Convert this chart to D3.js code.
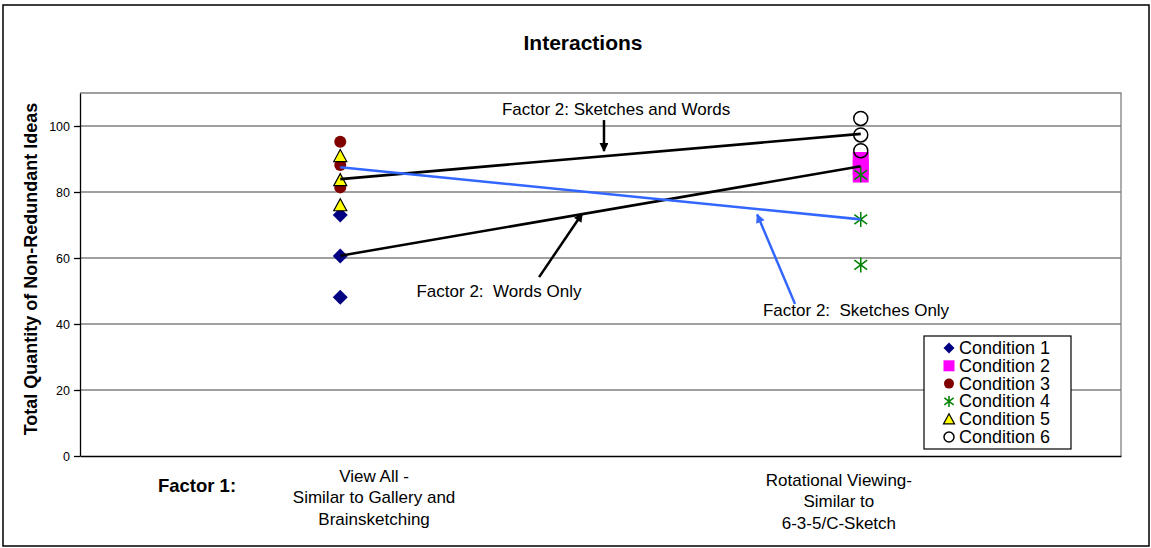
<!DOCTYPE html>
<html>
<head>
<meta charset="utf-8">
<script src="https://cdn.jsdelivr.net/npm/d3@7"></script>
<style>
  html, body { margin: 0; padding: 0; background: #fff; }
  text { font-family: "Liberation Sans", Arial, sans-serif; }
</style>
</head>
<body>
<svg id="chart" width="1151" height="548"></svg>
<script>
// ---------------- DATA ----------------
const categories = ["View All", "Rotational Viewing"];
const categoryLabels = [
  ["View All -", "Similar to Gallery and", "Brainsketching"],
  ["Rotational Viewing-", "Similar to", "6-3-5/C-Sketch"]
];
const seriesNames = ["Condition 1", "Condition 2", "Condition 3", "Condition 4", "Condition 5", "Condition 6"];
// values per category (index 0 = View All, index 1 = Rotational Viewing)
const condition1 = [[73, 60.6, 48.1], []];
const condition2 = [[], [89.7, 87.5, 85.3]];
const condition3 = [[95.2, 88.2, 81.4], []];
const condition4 = [[], [85.2, 71.7, 57.9]];
const condition5 = [[90.9, 83.6, 76], []];
const condition6 = [[], [102.3, 97.3, 92.5]];
// factor-2 interaction lines (value at each category)
const lineSketchesAndWords = [83.9, 97.6];
const lineWordsOnly = [60.7, 87.8];
const lineSketchesOnly = [87.5, 71.7];
const yTicks = [0, 20, 40, 60, 80, 100];

const annotationTexts = ["Factor 2: Sketches and Words", "Factor 2:  Words Only", "Factor 2:  Sketches Only"];

// ---------------- LAYOUT ----------------
const W = 1151, H = 548;
const plot = { left: 80, right: 1121, top: 93, bottom: 456 };
const svg = d3.select("#chart");

svg.append("rect").attr("x", 0).attr("y", 0).attr("width", W).attr("height", H).attr("fill", "#fff");
svg.append("rect").attr("x", 3).attr("y", 5).attr("width", 1146).attr("height", 541)
  .attr("fill", "none").attr("stroke", "#000").attr("stroke-width", 1.5);

const x = d3.scaleBand().domain(categories).range([plot.left, plot.right]);
const xc = c => x(c) + x.bandwidth() / 2;
const xLin = d3.scaleLinear().domain([0, 2]).range([plot.left, plot.right]);
const y = d3.scaleLinear().domain([0, 110]).range([plot.bottom, plot.top]);

// gridlines
svg.append("g").selectAll("line").data(yTicks.filter(t => t > 0)).join("line")
  .attr("x1", plot.left).attr("x2", plot.right)
  .attr("y1", d => y(d)).attr("y2", d => y(d))
  .attr("stroke", "#808080").attr("stroke-width", 1.3);
// plot border top/right
svg.append("path")
  .attr("d", `M${plot.left},${plot.top}H${plot.right}V${plot.bottom}`)
  .attr("fill", "none").attr("stroke", "#808080").attr("stroke-width", 1.3);

// y axis
const yAxis = svg.append("g").attr("transform", `translate(${plot.left},0)`)
  .call(d3.axisLeft(y).tickValues(yTicks).tickSize(6).tickSizeOuter(0).tickPadding(4));
yAxis.select(".domain").attr("stroke", "#000").attr("stroke-width", 1.3);
yAxis.selectAll(".tick line").attr("stroke", "#000").attr("stroke-width", 1.3);
yAxis.selectAll(".tick text").attr("font-size", "12.5px").attr("fill", "#000")
  .attr("font-family", "'Liberation Sans', Arial, sans-serif");
// x axis line
const xAxis = svg.append("g").attr("transform", `translate(0,${plot.bottom})`)
  .call(d3.axisBottom(x).tickSize(0).tickFormat(""));
xAxis.select(".domain").attr("stroke", "#000").attr("stroke-width", 1.3);

// ---------------- MARKERS ----------------
function markerPath(type, s) {
  switch (type) {
    case "diamond": return `M0,${-s}L${s},0L0,${s}L${-s},0Z`;
    case "square": return `M${-s},${-s}H${s}V${s}H${-s}Z`;
    case "triangle": return `M0,${-s}L${s},${s * 0.85}L${-s},${s * 0.85}Z`;
    case "asterisk": {
      const a = s * 0.85;
      return `M0,${-s}V${s}M${-a},${-a * 0.75}L${a},${a * 0.75}M${-a},${a * 0.75}L${a},${-a * 0.75}`;
    }
    case "circle": return d3.arc()({ innerRadius: 0, outerRadius: s, startAngle: 0, endAngle: 2 * Math.PI });
  }
}
const styles = [
  { type: "diamond", size: 7.5, lsize: 5.5, fill: "#000080", stroke: "none", sw: 0 },
  { type: "square", size: 8, lsize: 5.5, fill: "#FF00FF", stroke: "none", sw: 0 },
  { type: "circle", size: 6, lsize: 5, fill: "#800000", stroke: "none", sw: 0 },
  { type: "asterisk", size: 7.5, lsize: 5.5, fill: "none", stroke: "#008000", sw: 1.5 },
  { type: "triangle", size: 6.5, lsize: 5.5, fill: "#FFFF00", stroke: "#000", sw: 1.2 },
  { type: "circle", size: 7, lsize: 5, fill: "none", stroke: "#000", sw: 1.5 }
];
const allSeries = [condition1, condition2, condition3, condition4, condition5, condition6];

allSeries.forEach((ser, i) => {
  const pts = [];
  ser.forEach((vals, ci) => vals.forEach(v => pts.push({ c: categories[ci], v })));
  const st = styles[i];
  svg.append("g").selectAll("path").data(pts).join("path")
    .attr("d", markerPath(st.type, st.size))
    .attr("transform", d => `translate(${xc(d.c)},${y(d.v)})`)
    .attr("fill", st.fill).attr("stroke", st.stroke).attr("stroke-width", st.sw);
});

// ---------------- LINES ----------------
const lineGen = d3.line().x((d, i) => xc(categories[i])).y(d => y(d));
[[lineSketchesAndWords, "#000"], [lineWordsOnly, "#000"], [lineSketchesOnly, "#3366FF"]].forEach(([vals, col]) => {
  svg.append("path").datum(vals).attr("d", lineGen)
    .attr("fill", "none").attr("stroke", col).attr("stroke-width", 2.6);
});

// ---------------- ANNOTATIONS ----------------
const defs = svg.append("defs");
[["arrowBlack", "#000"], ["arrowBlue", "#3366FF"]].forEach(([id, col]) => {
  defs.append("marker").attr("id", id).attr("viewBox", "0 0 10 10")
    .attr("refX", 9).attr("refY", 5).attr("markerUnits", "userSpaceOnUse")
    .attr("markerWidth", 11).attr("markerHeight", 9).attr("orient", "auto")
    .append("path").attr("d", "M0,0L10,5L0,10Z").attr("fill", col);
});
// positions in data units (category-axis fraction, value)
const annotations = [
  { text: annotationTexts[0], tx: 1.03, ty: 104.85, ax1: 1.0067, ay1: 101.8, ax2: 1.0067, ay2: 92.4, col: "#000", mk: "arrowBlack" },
  { text: annotationTexts[1], tx: 0.805, ty: 49.7, ax1: 0.882, ay1: 54.2, ax2: 0.965, ay2: 73.5, col: "#000", mk: "arrowBlack" },
  { text: annotationTexts[2], tx: 1.491, ty: 44.2, ax1: 1.3737, ay1: 46.1, ax2: 1.301, ay2: 73.2, col: "#3366FF", mk: "arrowBlue" }
];
annotations.forEach(a => {
  svg.append("line")
    .attr("x1", xLin(a.ax1)).attr("y1", y(a.ay1))
    .attr("x2", xLin(a.ax2)).attr("y2", y(a.ay2))
    .attr("stroke", a.col).attr("stroke-width", 2.5)
    .attr("marker-end", `url(#${a.mk})`);
  svg.append("text").attr("x", xLin(a.tx)).attr("y", y(a.ty))
    .attr("text-anchor", "middle").attr("dominant-baseline", "central")
    .attr("font-size", "17px").attr("fill", "#000")
    .style("white-space", "pre").text(a.text);
});

// ---------------- TITLES ----------------
svg.append("text").attr("x", 583).attr("y", 42)
  .attr("text-anchor", "middle").attr("dominant-baseline", "central")
  .attr("font-size", "21px").attr("font-weight", "bold").text("Interactions");

svg.append("text").attr("transform", "translate(31,269) rotate(-90)")
  .attr("text-anchor", "middle").attr("dominant-baseline", "central")
  .attr("font-size", "18px").attr("font-weight", "bold")
  .text("Total Quantity of Non-Redundant Ideas");

svg.append("text").attr("x", 197).attr("y", 485)
  .attr("text-anchor", "middle").attr("dominant-baseline", "central")
  .attr("font-size", "18.5px").attr("font-weight", "bold").text("Factor 1:");

// category labels (text boxes)
const catLabelPos = [{ cx: 0.565, top: 476 }, { cx: 1.458, top: 480 }];
categoryLabels.forEach((lines, i) => {
  const t = svg.append("text").attr("text-anchor", "middle").attr("font-size", "17px").attr("fill", "#000");
  lines.forEach((ln, j) => {
    t.append("tspan").attr("x", xLin(catLabelPos[i].cx)).attr("y", catLabelPos[i].top + j * 21.5)
      .attr("dominant-baseline", "central").text(ln);
  });
});

// ---------------- LEGEND ----------------
const lg = svg.append("g");
lg.append("rect").attr("x", 924).attr("y", 336).attr("width", 147).attr("height", 113)
  .attr("fill", "#fff").attr("stroke", "#000").attr("stroke-width", 1.2);
seriesNames.forEach((name, i) => {
  const st = styles[i];
  const ry = 348 + i * 17.8;
  lg.append("path").attr("d", markerPath(st.type, st.lsize))
    .attr("transform", `translate(949,${ry})`)
    .attr("fill", st.fill).attr("stroke", st.stroke).attr("stroke-width", st.sw);
  lg.append("text").attr("x", 959).attr("y", ry).attr("dominant-baseline", "central")
    .attr("font-size", "18px").attr("fill", "#000").text(name);
});
</script>
</body>
</html>
